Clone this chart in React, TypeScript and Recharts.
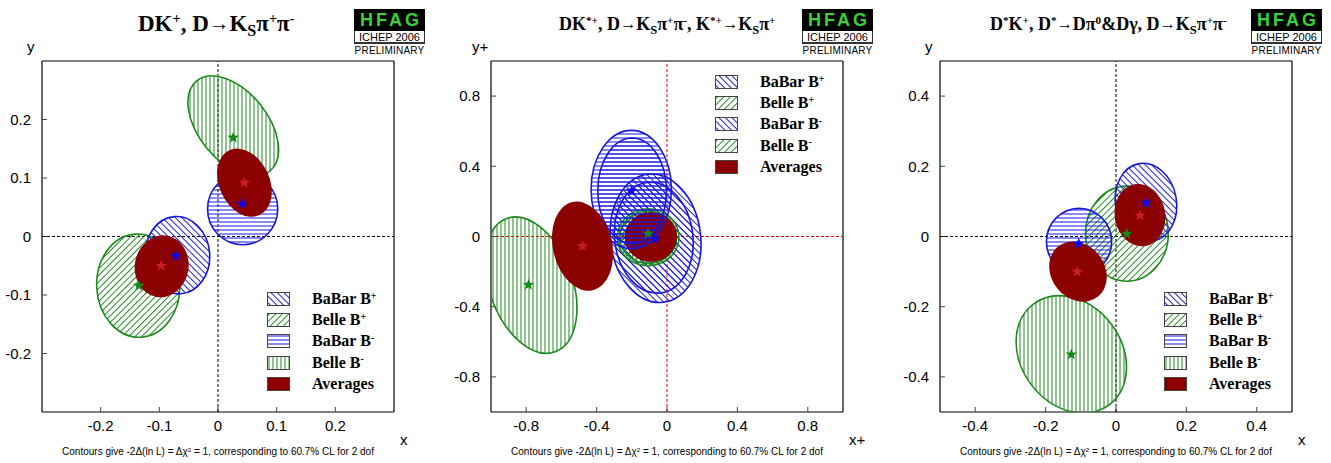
import React from 'react';
import { ScatterChart, Scatter, XAxis, YAxis } from 'recharts';

const SANS = "'Liberation Sans', Arial, Helvetica, sans-serif";
const SERIF = "'Liberation Serif', 'Times New Roman', serif";
const BLUE = '#1818dc';
const GREEN = '#1d8a1d';
const DARKRED = '#8b0000';

// ---- panel 1: DK+, D -> Ks pi+ pi-
const p1Ticks = [-0.2, -0.1, 0, 0.1, 0.2];
const p1Ellipses = [
  { s: 'belleMinus', x: 0.026, y: 0.189, a: 0.099, b: 0.059, angle: 129 },
  { s: 'bellePlus', x: -0.136, y: -0.084, a: 0.088, b: 0.071, angle: 93 },
  { s: 'babarPlus', x: -0.069, y: -0.032, a: 0.066, b: 0.055, angle: 95 },
  { s: 'babarMinus', x: 0.042, y: 0.047, a: 0.061, b: 0.06, angle: 90 },
  { s: 'average', x: 0.045, y: 0.092, a: 0.061, b: 0.043, angle: 115 },
  { s: 'average', x: -0.096, y: -0.051, a: 0.053, b: 0.046, angle: 80 },
];
const p1Stars = [
  { s: 'average', x: 0.045, y: 0.092 },
  { s: 'average', x: -0.097, y: -0.05 },
  { s: 'belleMinus', x: 0.026, y: 0.169 },
  { s: 'bellePlus', x: -0.135, y: -0.084 },
  { s: 'babarPlus', x: -0.072, y: -0.033 },
  { s: 'babarMinus', x: 0.041, y: 0.056 },
];

// ---- panel 2: DK*+
const p2Ticks = [-0.8, -0.4, 0, 0.4, 0.8];
const p2Ellipses = [
  { s: 'belleMinus', x: -0.773, y: -0.277, a: 0.403, b: 0.237, angle: 110 },
  { s: 'babarPlus', x: -0.065, y: -0.01, a: 0.366, b: 0.257, angle: 97 },
  { s: 'babarPlus', x: -0.075, y: -0.007, a: 0.316, b: 0.223, angle: 97 },
  { s: 'bellePlus', x: -0.107, y: -0.004, a: 0.175, b: 0.162, angle: 0 },
  { s: 'bellePlus', x: -0.107, y: -0.004, a: 0.161, b: 0.149, angle: 0 },
  { s: 'average', x: -0.092, y: -0.002, a: 0.149, b: 0.142, angle: 0 },
  { s: 'babarMinus', x: -0.203, y: 0.268, a: 0.336, b: 0.229, angle: 90 },
  { s: 'babarMinus', x: -0.198, y: 0.26, a: 0.3, b: 0.196, angle: 90 },
  { s: 'average', x: -0.48, y: -0.055, a: 0.257, b: 0.169, angle: 103 },
];
const p2Stars = [
  { s: 'average', x: -0.48, y: -0.055 },
  { s: 'belleMinus', x: -0.787, y: -0.275 },
  { s: 'bellePlus', x: -0.108, y: 0.017 },
  { s: 'babarMinus', x: -0.201, y: 0.26 },
  { s: 'babarPlus', x: -0.068, y: -0.013 },
];

// ---- panel 3: D*K+
const p3Ticks = [-0.4, -0.2, 0, 0.2, 0.4];
const p3Ellipses = [
  { s: 'belleMinus', x: -0.127, y: -0.336, a: 0.179, b: 0.143, angle: 127 },
  { s: 'bellePlus', x: 0.031, y: 0.008, a: 0.135, b: 0.118, angle: 90 },
  { s: 'babarMinus', x: -0.105, y: -0.015, a: 0.095, b: 0.093, angle: 90 },
  { s: 'babarPlus', x: 0.085, y: 0.097, a: 0.112, b: 0.087, angle: 100 },
  { s: 'average', x: -0.108, y: -0.1, a: 0.091, b: 0.076, angle: 128 },
  { s: 'average', x: 0.068, y: 0.061, a: 0.089, b: 0.072, angle: 100 },
];
const p3Stars = [
  { s: 'average', x: -0.11, y: -0.1 },
  { s: 'average', x: 0.068, y: 0.06 },
  { s: 'belleMinus', x: -0.127, y: -0.336 },
  { s: 'bellePlus', x: 0.031, y: 0.008 },
  { s: 'babarMinus', x: -0.106, y: -0.02 },
  { s: 'babarPlus', x: 0.085, y: 0.096 },
];

// legend rows: label, superscript, style
const legendStd = [
  ['BaBar B', '+', 'babarPlus'],
  ['Belle B', '+', 'bellePlus'],
  ['BaBar B', '-', 'babarMinus'],
  ['Belle B', '-', 'belleMinus'],
  ['Averages', '', 'average'],
];
const legendP2 = [
  ['BaBar B', '+', 'babarPlus'],
  ['Belle B', '+', 'bellePlus'],
  ['BaBar B', '-', 'babarPlus'],
  ['Belle B', '-', 'bellePlus'],
  ['Averages', '', 'average'],
];

const STYLE: Record<string, { fill: string; stroke: string; star: string }> = {
  babarPlus: { fill: 'url(#hBlueDiag)', stroke: BLUE, star: '#0a0af0' },
  bellePlus: { fill: 'url(#hGreenDiag)', stroke: GREEN, star: '#138a13' },
  babarMinus: { fill: 'url(#hBlueHoriz)', stroke: BLUE, star: '#0a0af0' },
  belleMinus: { fill: 'url(#hGreenVert)', stroke: GREEN, star: '#138a13' },
  average: { fill: DARKRED, stroke: 'none', star: '#c81e1e' },
};

const PLOT_W = 352;
const PLOT_H = 351;
const H = 463;

const Sup = ({ children }: any) => (
  <span style={{ position: 'relative', top: '-0.55em', fontSize: '62%' }}>{children}</span>
);
const Sub = ({ children }: any) => (
  <span style={{ position: 'relative', top: '0.3em', fontSize: '70%' }}>{children}</span>
);
const Arrow = () => <span style={{ fontSize: '90%', position: 'relative', top: '-0.05em' }}>→</span>;

const starPath = (cx: number, cy: number, R: number) => {
  const r = R * 0.42;
  const pts: string[] = [];
  for (let i = 0; i < 10; i++) {
    const rad = i % 2 === 0 ? R : r;
    const t = -Math.PI / 2 + (i * Math.PI) / 5;
    pts.push(`${cx + rad * Math.cos(t)},${cy + rad * Math.sin(t)}`);
  }
  return pts.join(' ');
};

// full ellipse as two arcs, so that hatching patterns are not rotated with it
const ellipsePath = (cx: number, cy: number, rx: number, ry: number, angleDeg: number) => {
  const phi = (-angleDeg * Math.PI) / 180;
  const dx = rx * Math.cos(phi);
  const dy = rx * Math.sin(phi);
  const rot = -angleDeg;
  return `M ${cx + dx} ${cy + dy} A ${rx} ${ry} ${rot} 0 1 ${cx - dx} ${cy - dy} A ${rx} ${ry} ${rot} 0 1 ${cx + dx} ${cy + dy} Z`;
};

const Logo = ({ left }: { left: number }) => (
  <div style={{ position: 'absolute', left, top: 9, width: 71, fontFamily: SANS, textAlign: 'center' }}>
    <div style={{ background: '#000', height: 22, lineHeight: '23px', color: '#33d433', fontWeight: 'bold', fontSize: 18, letterSpacing: 3, paddingLeft: 3 }}>HFAG</div>
    <div style={{ borderLeft: '1px solid #333', borderRight: '1px solid #333', borderBottom: '2px solid #333', height: 11, lineHeight: '12px', fontSize: 11 }}>ICHEP 2006</div>
    <div style={{ fontSize: 10, lineHeight: '13px', letterSpacing: 0.2 }}>PRELIMINARY</div>
  </div>
);

const Legend = ({ left, top, rows }: { left: number; top: number; rows: string[][] }) => (
  <div style={{ position: 'absolute', left, top }}>
    {rows.map((r, i) => (
      <div key={i} style={{ position: 'absolute', top: i * 21.2, left: 0, width: 120, height: 14 }}>
        <svg width={23} height={14} style={{ position: 'absolute', left: 0, top: 0 }}>
          <rect x={0.5} y={0.5} width={22} height={13} fill="#fff" stroke="#555" />
          <rect x={1} y={1} width={21} height={12} fill={STYLE[r[2]].fill} />
          <rect x={0.5} y={0.5} width={22} height={13} fill="none" stroke="#444" />
        </svg>
        <div style={{ position: 'absolute', left: 45, top: -3, fontFamily: SERIF, fontWeight: 'bold', fontSize: 16, whiteSpace: 'nowrap', lineHeight: '20px' }}>
          {r[0]}
          {r[1] ? <Sup>{r[1]}</Sup> : null}
        </div>
      </div>
    ))}
  </div>
);

type PanelProps = {
  left: number;
  width: number;
  yAxisWidth: number;
  domain: [number, number];
  ticks: number[];
  ellipses: any[];
  stars: any[];
  zeroColor: string;
  title: React.ReactNode;
  titleLeft: number;
  titleSize: number;
  logoLeft: number;
  legendLeft: number;
  legendTop: number;
  legendRows: string[][];
  xLabel: string;
  yLabel: string;
  yLabelLeft: number;
};

const Panel = (p: PanelProps) => {
  const span = p.domain[1] - p.domain[0];
  const pxX = PLOT_W / span;
  const pxY = PLOT_H / span;
  const rightMargin = p.width - p.yAxisWidth - PLOT_W - 1;

  const ellipseShape = (props: any) => {
    const { cx, cy, payload } = props;
    const st = STYLE[payload.s];
    return (
      <path
        d={ellipsePath(cx, cy, payload.a * pxX, payload.b * pxY, payload.angle)}
        fill={st.fill}
        stroke={st.stroke}
        strokeWidth={1.6}
      />
    );
  };
  const starShape = (props: any) => {
    const { cx, cy, payload } = props;
    return <polygon points={starPath(cx, cy, 6)} fill={STYLE[payload.s].star} />;
  };
  const noShape = () => <g />;

  const zeroH = [{ x: p.domain[0], y: 0 }, { x: p.domain[1], y: 0 }];
  const zeroV = [{ x: 0, y: p.domain[0] }, { x: 0, y: p.domain[1] }];
  const tickStyle = { fill: '#000', fontSize: 15, fontFamily: SANS };
  const plotCenter = p.left + p.yAxisWidth + PLOT_W / 2;
  const frame = { stroke: '#000', strokeWidth: 1.2 };
  const tl = { stroke: '#444' };

  return (
    <>
      <div style={{ position: 'absolute', left: p.left, top: 0, width: p.width, height: H }}>
        <ScatterChart width={p.width} height={H} margin={{ top: 60, right: rightMargin, bottom: 0, left: 0 }}>
          <XAxis xAxisId="b" type="number" dataKey="x" domain={p.domain} ticks={p.ticks} allowDataOverflow
            height={51} tickSize={-5} tickMargin={13} tick={tickStyle} axisLine={frame} tickLine={tl} />
          <XAxis xAxisId="t" orientation="top" type="number" dataKey="x" domain={p.domain} ticks={p.ticks} allowDataOverflow
            height={1} tickSize={-5} tick={false} axisLine={frame} tickLine={tl} />
          <YAxis yAxisId="l" type="number" dataKey="y" domain={p.domain} ticks={p.ticks} allowDataOverflow
            width={p.yAxisWidth} tickSize={-5} tickMargin={16} tick={tickStyle} axisLine={frame} tickLine={tl} />
          <YAxis yAxisId="r" orientation="right" type="number" dataKey="y" domain={p.domain} ticks={p.ticks} allowDataOverflow
            width={1} tickSize={-5} tick={false} axisLine={frame} tickLine={tl} />
          <Scatter xAxisId="b" yAxisId="l" data={zeroH} shape={noShape} line={{ stroke: p.zeroColor, strokeDasharray: '3 2', strokeWidth: 1 }} isAnimationActive={false} />
          <Scatter xAxisId="b" yAxisId="l" data={zeroV} shape={noShape} line={{ stroke: p.zeroColor, strokeDasharray: '3 2', strokeWidth: 1 }} isAnimationActive={false} />
          <Scatter xAxisId="b" yAxisId="l" data={p.ellipses} shape={ellipseShape} isAnimationActive={false} />
          <Scatter xAxisId="b" yAxisId="l" data={p.stars} shape={starShape} isAnimationActive={false} />
        </ScatterChart>
      </div>
      <div style={{ position: 'absolute', left: p.titleLeft, top: 12, fontFamily: SERIF, fontWeight: 'bold', fontSize: p.titleSize, whiteSpace: 'nowrap', lineHeight: '24px' }}>
        {p.title}
      </div>
      <Logo left={p.logoLeft} />
      <Legend left={p.legendLeft} top={p.legendTop} rows={p.legendRows} />
      <div style={{ position: 'absolute', left: p.yLabelLeft, top: 38, fontFamily: SANS, fontSize: 15 }}>{p.yLabel}</div>
      <div style={{ position: 'absolute', left: p.left + p.yAxisWidth + PLOT_W + 6, top: 431, fontFamily: SANS, fontSize: 15 }}>{p.xLabel}</div>
      <div style={{ position: 'absolute', left: plotCenter - 200, width: 400, top: 446, textAlign: 'center', fontFamily: SANS, fontSize: 10, whiteSpace: 'nowrap' }}>
        Contours give -2Δ(ln L) = Δχ<Sup>2</Sup> = 1, corresponding to 60.7% CL for 2 dof
      </div>
    </>
  );
};

export default function App() {
  return (
    <div style={{ position: 'absolute', left: 0, top: 0, width: 1331, height: H, background: '#fff', overflow: 'hidden' }}>
      <svg width={0} height={0} style={{ position: 'absolute' }}>
        <defs>
          <pattern id="hBlueDiag" width={4.6} height={4.6} patternUnits="userSpaceOnUse" patternTransform="rotate(-45)">
            <line x1={2.3} y1={0} x2={2.3} y2={4.6} stroke={BLUE} strokeWidth={1} />
          </pattern>
          <pattern id="hGreenDiag" width={4.6} height={4.6} patternUnits="userSpaceOnUse" patternTransform="rotate(45)">
            <line x1={2.3} y1={0} x2={2.3} y2={4.6} stroke={GREEN} strokeWidth={1} />
          </pattern>
          <pattern id="hBlueHoriz" width={4} height={4} patternUnits="userSpaceOnUse">
            <line x1={0} y1={2} x2={4} y2={2} stroke={BLUE} strokeWidth={1} />
          </pattern>
          <pattern id="hGreenVert" width={4} height={4} patternUnits="userSpaceOnUse">
            <line x1={2} y1={0} x2={2} y2={4} stroke={GREEN} strokeWidth={1} />
          </pattern>
        </defs>
      </svg>
      <Panel
        left={0} width={443} yAxisWidth={42} domain={[-0.3, 0.3]} ticks={p1Ticks}
        ellipses={p1Ellipses} stars={p1Stars} zeroColor="#000"
        title={<>DK<Sup>+</Sup>, D<Arrow />K<Sub>S</Sub>π<Sup>+</Sup>π<Sup>-</Sup></>}
        titleLeft={138} titleSize={23} logoLeft={354}
        legendLeft={267} legendTop={292} legendRows={legendStd}
        xLabel="x" yLabel="y" yLabelLeft={27}
      />
      <Panel
        left={443} width={443} yAxisWidth={48} domain={[-1, 1]} ticks={p2Ticks}
        ellipses={p2Ellipses} stars={p2Stars} zeroColor="#e00000"
        title={<>DK<Sup>*+</Sup>, D<Arrow />K<Sub>S</Sub>π<Sup>+</Sup>π<Sup>-</Sup>, K<Sup>*+</Sup><Arrow />K<Sub>S</Sub>π<Sup>+</Sup></>}
        titleLeft={559} titleSize={18} logoLeft={802}
        legendLeft={715} legendTop={75} legendRows={legendP2}
        xLabel="x+" yLabel="y+" yLabelLeft={472}
      />
      <Panel
        left={886} width={445} yAxisWidth={54} domain={[-0.5, 0.5]} ticks={p3Ticks}
        ellipses={p3Ellipses} stars={p3Stars} zeroColor="#000"
        title={<>D<Sup>*</Sup>K<Sup>+</Sup>, D<Sup>*</Sup><Arrow />Dπ<Sup>0</Sup>&amp;Dγ, D<Arrow />K<Sub>S</Sub>π<Sup>+</Sup>π<Sup>-</Sup></>}
        titleLeft={990} titleSize={18} logoLeft={1251}
        legendLeft={1164} legendTop={292} legendRows={legendStd}
        xLabel="x" yLabel="y" yLabelLeft={925}
      />
    </div>
  );
}
